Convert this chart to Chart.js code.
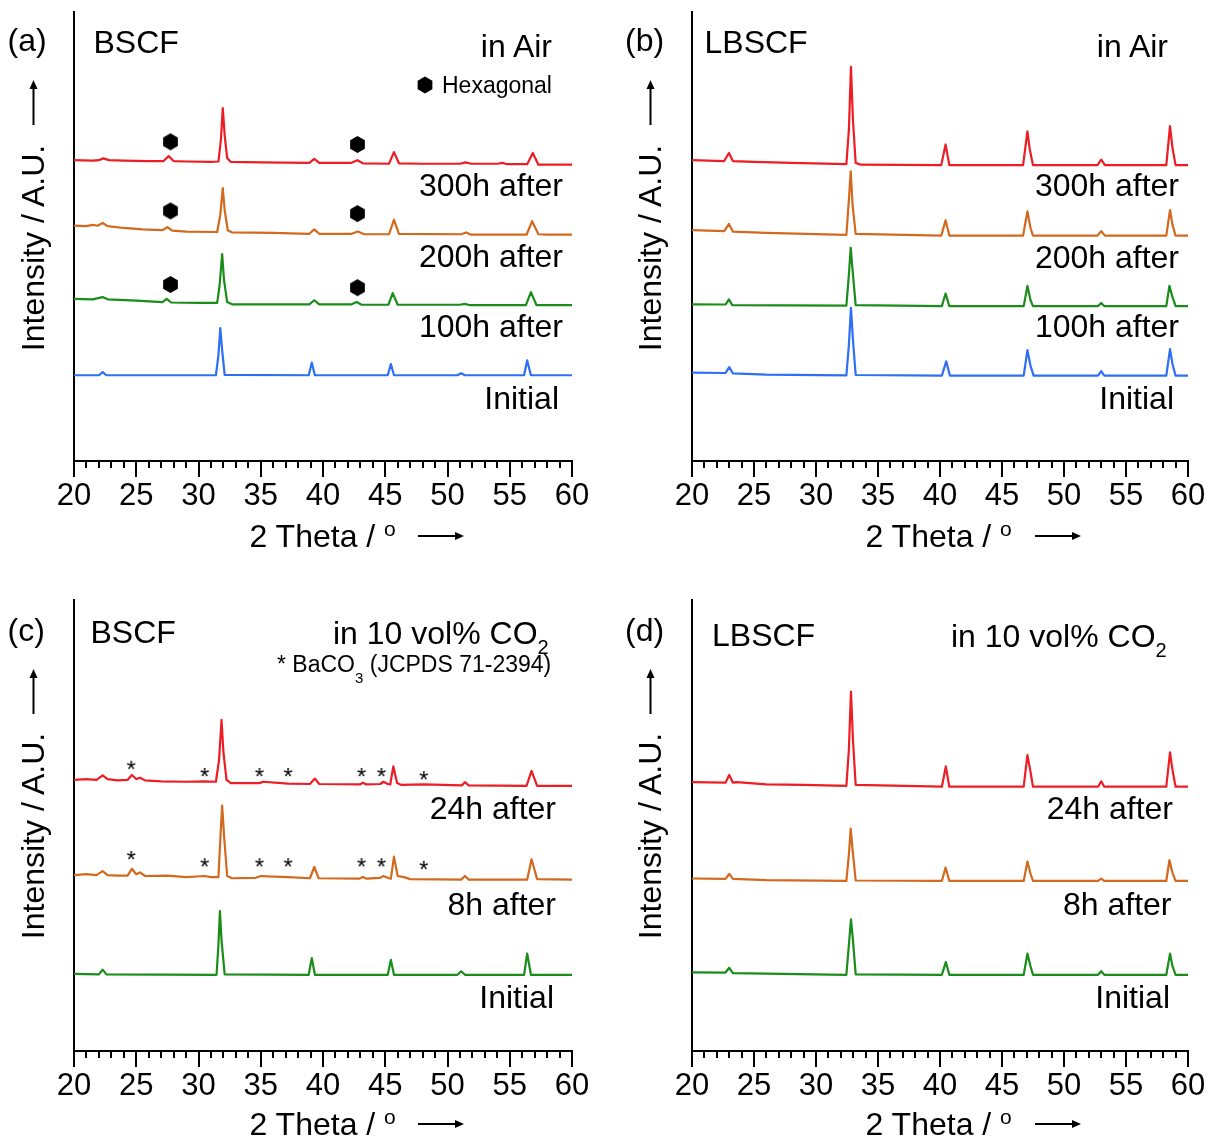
<!DOCTYPE html>
<html>
<head>
<meta charset="utf-8">
<script src="https://cdn.jsdelivr.net/npm/chart.js@4.4.1/dist/chart.umd.min.js"></script>
<style>
  html, body { margin: 0; padding: 0; background: #fff; }
  #fig { position: relative; width: 1212px; height: 1137px; overflow: hidden;
         font-family: 'Liberation Sans', Arial, sans-serif; color: #000; }
  #fig canvas { position: absolute; }
  .t { position: absolute; white-space: nowrap; line-height: 1; }
  #marks { position: absolute; left: 0; top: 0; }
</style>
</head>
<body>
<div id="fig">
  <canvas id="pa" width="606" height="560" style="left:0;top:0"></canvas>
  <canvas id="pb" width="606" height="560" style="left:606px;top:0"></canvas>
  <canvas id="pc" width="606" height="549" style="left:0;top:588px"></canvas>
  <canvas id="pd" width="606" height="549" style="left:606px;top:588px"></canvas>
  <svg id="marks" width="1212" height="1137"></svg>
</div>
<script>
// ---- 2θ axis ----
const xMin = 20, xMax = 60, majorStep = 5, minorStep = 1;

// ---- series names ----
const seriesAir = ['300h after', '200h after', '100h after', 'Initial'];
const seriesCO2 = ['24h after', '8h after', 'Initial'];

// ---- XRD patterns: [2θ, relative intensity] ----
// (a) BSCF in air
const bscfAir300h = [[20,1.0],[21.5,0.9],[22.0,1.0],[22.35,1.4],[22.8,1.0],[24,0.9],[26,0.8],[27.2,0.8],[27.6,1.9],[28.0,0.8],[29,0.7],[31.0,0.6],[31.6,0.7],[31.8,5.5],[31.95,12.6],[32.1,6.6],[32.3,1.5],[32.6,0.6],[35,0.5],[38.9,0.4],[39.3,1.3],[39.7,0.4],[42.3,0.4],[42.75,1.0],[43.2,0.3],[45.3,0.2],[45.7,2.8],[46.1,0.3],[48,0.2],[51.0,0.2],[51.45,0.5],[51.9,0.2],[54.0,0.2],[54.4,0.4],[54.8,0.1],[56.4,0.1],[56.85,2.6],[57.3,0],[60,0]];
const bscfAir200h = [[20,2.0],[21,1.9],[21.5,2.2],[21.9,2.0],[22.3,2.6],[22.7,1.9],[24,1.5],[25.5,1.2],[27.1,1.0],[27.5,1.7],[27.9,0.9],[29,0.7],[31.5,0.6],[31.75,4.4],[31.95,10.4],[32.1,5.5],[32.35,1.0],[32.7,0.5],[36,0.4],[38.9,0.2],[39.3,1.2],[39.7,0.2],[42.3,0.2],[42.8,0.7],[43.3,0.1],[45.3,0.1],[45.7,3.3],[46.1,0.2],[51.1,0.1],[51.5,0.5],[51.9,0],[56.35,0],[56.8,3.0],[57.3,0.1],[58,0],[60,0]];
const bscfAir100h = [[20,1.4],[21.5,1.3],[22.3,1.8],[22.7,1.3],[25,1.0],[27.1,0.7],[27.45,1.4],[27.8,0.6],[30,0.5],[31.5,0.5],[31.7,4.5],[31.9,11.4],[32.05,5.6],[32.3,0.7],[32.7,0.2],[38.9,0.2],[39.3,1.1],[39.7,0.2],[42.3,0.2],[42.7,0.7],[43.1,0.1],[45.25,0.1],[45.6,2.7],[46.0,0.1],[51.0,0.1],[51.4,0.3],[51.8,0],[56.3,0],[56.7,2.9],[57.15,0],[60,0]];
const bscfAirInitial = [[20,0],[22.0,0],[22.3,0.7],[22.6,0],[31.4,0],[31.6,4.5],[31.75,10.5],[31.9,5.6],[32.1,0.1],[38.85,0],[39.1,2.8],[39.35,0],[45.2,0],[45.45,2.5],[45.7,0],[50.8,0],[51.1,0.45],[51.4,0],[56.15,0],[56.4,3.3],[56.7,0],[60,0]];

// (b) LBSCF in air
const lbscfAir300h = [[20,1.1],[22.6,0.9],[22.98,2.7],[23.3,0.9],[25,0.7],[28,0.5],[32.45,0.2],[32.65,7.8],[32.82,21.9],[32.98,10.0],[33.2,0.5],[33.6,0.1],[40.1,0],[40.45,4.6],[40.75,0],[46.7,0],[47.05,7.5],[47.25,3.3],[47.5,0],[52.7,0],[53.0,1.2],[53.3,0],[58.25,0],[58.55,8.7],[58.75,3.8],[59.0,0],[60,0]];
const lbscfAir200h = [[20,1.2],[22.6,1.0],[22.98,2.6],[23.3,0.9],[26,0.6],[32.45,0.15],[32.65,7.9],[32.8,14.3],[32.95,6.8],[33.2,0.4],[40.1,0],[40.45,3.4],[40.75,0],[46.7,0],[47.05,5.4],[47.3,1.7],[47.5,0],[52.7,0],[53.0,1.0],[53.3,0],[58.25,0],[58.55,5.7],[58.75,2.4],[59.0,0],[60,0]];
const lbscfAir100h = [[20,0.4],[22.7,0.35],[22.98,1.5],[23.25,0.2],[32.45,0.1],[32.65,6.9],[32.8,13.0],[32.95,8.0],[33.2,0.2],[40.15,0],[40.45,2.8],[40.75,0],[46.75,0],[47.05,4.5],[47.3,1.3],[47.5,0],[52.75,0],[53.0,0.7],[53.25,0],[58.25,0],[58.5,4.5],[58.75,2.0],[59.0,0],[60,0]];
const lbscfAirInitial = [[20,0.7],[22.7,0.6],[23.0,1.9],[23.3,0.5],[26,0.25],[32.45,0.05],[32.65,6.8],[32.82,15.1],[32.98,8.0],[33.2,0.15],[40.15,0],[40.5,3.2],[40.8,0],[46.75,0],[47.05,5.7],[47.3,2.2],[47.55,0],[52.75,0],[53.0,1.0],[53.25,0],[58.25,0],[58.55,5.9],[58.75,2.6],[59.0,0],[60,0]];

// (c) BSCF in 10 vol% CO2
const bscfCO2_24h = [[20,1.3],[21.0,1.5],[21.8,1.3],[22.3,2.3],[22.7,1.5],[23.5,1.2],[24.3,1.3],[24.65,2.4],[25.0,1.5],[25.3,1.8],[25.7,1.2],[27,1.0],[29,0.9],[30.5,1.0],[31.4,0.9],[31.65,5.7],[31.85,14.6],[32.0,7.5],[32.25,1.3],[32.6,0.6],[34.9,0.6],[35.2,0.9],[37.2,0.5],[38.95,0.4],[39.35,1.6],[39.7,0.4],[43.0,0.3],[43.2,0.7],[43.5,0.3],[44.6,0.4],[44.85,0.9],[45.2,0.4],[45.4,0.3],[45.65,4.3],[45.95,0.6],[46.3,0.2],[48.1,0.3],[51.15,0.1],[51.4,0.8],[51.7,0.1],[56.35,0],[56.75,3.3],[57.2,0],[60,0]];
const bscfCO2_8h = [[20,1.0],[21.0,1.2],[21.8,1.0],[22.3,1.9],[22.7,1.0],[23.5,0.9],[24.3,0.9],[24.65,2.4],[25.0,1.2],[25.3,1.6],[25.7,0.8],[27.5,0.9],[29,0.55],[30.5,0.8],[31.0,0.55],[31.6,0.55],[31.75,8.8],[31.9,16.4],[32.05,9.9],[32.3,0.8],[32.7,0.3],[34.6,0.4],[35.0,0.8],[35.6,0.7],[37.2,0.55],[38.95,0.3],[39.3,2.8],[39.65,0.3],[42.9,0.2],[43.2,0.6],[43.5,0.2],[44.6,0.4],[44.85,0.8],[45.3,0.3],[45.45,0.2],[45.7,5.1],[46.0,0.8],[46.5,0.55],[47,0.1],[51.1,0],[51.4,0.8],[51.7,0],[56.4,0],[56.75,4.5],[57.2,0.1],[60,0]];
const bscfCO2Initial = [[20,0.2],[22.0,0.1],[22.3,1.15],[22.6,0.1],[31.45,0],[31.6,6.6],[31.72,14.1],[31.85,7.7],[32.1,0.1],[38.85,0],[39.1,3.7],[39.35,0],[45.2,0],[45.45,3.3],[45.7,0],[50.8,0],[51.1,0.8],[51.4,0],[56.15,0],[56.4,4.7],[56.7,0],[60,0]];

// (d) LBSCF in 10 vol% CO2
const lbscfCO2_24h = [[20,1.0],[22.7,0.9],[23.0,2.6],[23.3,0.9],[23.6,1.0],[26,0.5],[29,0.4],[32.45,0.2],[32.65,8.2],[32.82,21.1],[32.98,10.4],[33.2,0.4],[40.15,0],[40.47,4.5],[40.75,0],[46.75,0],[47.05,7.0],[47.3,3.3],[47.5,0],[52.75,0],[53.0,1.2],[53.25,0],[58.25,0],[58.55,7.6],[58.75,3.7],[59.0,0],[60,0]];
const lbscfCO2_8h = [[20,0.55],[22.7,0.45],[23.0,1.55],[23.3,0.45],[26,0.2],[32.45,0],[32.65,5.8],[32.8,11.6],[32.95,6.9],[33.2,0.1],[40.15,0],[40.45,3.0],[40.75,0],[46.75,0],[47.05,4.3],[47.3,1.6],[47.5,0],[52.75,0],[53.0,0.5],[53.25,0],[58.25,0],[58.5,4.6],[58.75,1.8],[59.0,0],[60,0]];
const lbscfCO2Initial = [[20,0.55],[22.7,0.5],[23.0,1.55],[23.3,0.35],[26,0.25],[32.45,0],[32.65,6.6],[32.82,12.3],[32.98,7.7],[33.2,0.1],[40.15,0],[40.47,2.8],[40.75,0],[46.75,0],[47.05,4.7],[47.3,1.9],[47.5,0],[52.75,0],[53.0,0.8],[53.25,0],[58.25,0],[58.55,4.7],[58.75,1.9],[59.0,0],[60,0]];

// ---- vertical stacking offsets of each pattern ----
const offsetsA = [66.0, 50.4, 34.7, 19.1];
const offsetsB = [65.9, 50.2, 34.5, 19.0];
const offsetsC = [58.8, 38.0, 16.9];
const offsetsD = [58.6, 37.7, 16.9];

// ---- phase markers: [2θ, level] ----
const hexagonalMarks = [[27.75,71.1],[42.77,70.5],[27.75,55.7],[42.77,55.1],[27.75,39.3],[42.77,38.6]];
const baco3Theta = [24.6, 30.5, 34.9, 37.2, 43.1, 44.7, 48.1];
const baco3Level24h = [63.7, 62.1, 62.1, 62.1, 62.1, 62.1, 61.4];
const baco3Level8h = [43.7, 42.1, 42.1, 42.1, 42.1, 42.1, 41.5];

// ---- styling ----
const FONT = "'Liberation Sans', Arial, sans-serif";
const RED = '#ee1d23', ORANGE = '#d2691e', GREEN = '#1a8c1a', BLUE = '#2d6ff5';
const airColors = [RED, ORANGE, GREEN, BLUE];
const co2Colors = [RED, ORANGE, GREEN];

Chart.defaults.font.family = FONT;

// hexagon glyph used as a point style
function hexagonSprite(r) {
  const c = document.createElement('canvas');
  const s = Math.ceil(2 * r + 2);
  c.width = s; c.height = s;
  const g = c.getContext('2d');
  g.fillStyle = '#000';
  g.beginPath();
  for (let k = 0; k < 6; k++) {
    const a = -Math.PI / 2 + k * Math.PI / 3;
    const px = s / 2 + r * Math.cos(a), py = s / 2 + r * Math.sin(a);
    k ? g.lineTo(px, py) : g.moveTo(px, py);
  }
  g.closePath(); g.fill();
  return c;
}
// asterisk glyph used as a point style
function asteriskSprite(size) {
  const c = document.createElement('canvas');
  c.width = 20; c.height = 20;
  const g = c.getContext('2d');
  g.fillStyle = '#000';
  g.font = size + 'px ' + FONT;
  g.textAlign = 'center';
  g.textBaseline = 'alphabetic';
  g.fillText('*', 10, 10 + size * 0.57);
  return c;
}
const hexPoint = hexagonSprite(8.5);
const starPoint = asteriskSprite(24);

// short unlabeled ticks at every degree
const minorTicks = {
  id: 'minorTicks',
  afterDraw(chart) {
    const s = chart.scales.x, ctx = chart.ctx;
    ctx.save();
    ctx.strokeStyle = '#000';
    ctx.lineWidth = 2;
    ctx.beginPath();
    for (let v = xMin; v <= xMax; v += minorStep) {
      if (v % majorStep === 0) continue;
      const px = Math.round(s.getPixelForValue(v));
      ctx.moveTo(px, s.top);
      ctx.lineTo(px, s.top + 7);
    }
    ctx.stroke();
    ctx.restore();
  }
};

function makePanel(id, curves, offsets, colors, pad, axisH, markers) {
  const datasets = curves.map((c, i) => ({
    type: 'line',
    data: c.map(p => ({ x: p[0], y: p[1] + offsets[i] })),
    borderColor: colors[i],
    borderWidth: 2.2,
    borderJoinStyle: 'round',
    pointRadius: 0,
    fill: false,
    tension: 0
  }));
  (markers || []).forEach(m => datasets.push({
    type: 'line',
    showLine: false,
    data: m.points.map(p => ({ x: p[0], y: p[1] })),
    pointStyle: m.style,
    pointRadius: 8,
    borderWidth: 0
  }));
  return new Chart(document.getElementById(id), {
    type: 'line',
    data: { datasets },
    options: {
      responsive: false,
      animation: false,
      events: [],
      layout: { padding: pad },
      plugins: { legend: { display: false }, tooltip: { enabled: false } },
      scales: {
        x: {
          type: 'linear', min: xMin, max: xMax, position: 'bottom',
          ticks: { stepSize: majorStep, color: '#000', padding: 1, maxRotation: 0, autoSkip: false,
                   font: { family: FONT, size: 31 } },
          grid: { display: true, drawOnChartArea: false, drawTicks: true, tickLength: 16,
                  color: '#000', lineWidth: 2 },
          border: { display: true, color: '#000', width: 2 },
          afterFit(s) { s.height = axisH; }
        },
        y: {
          min: 0, max: 100,
          ticks: { display: false },
          grid: { display: false, drawTicks: false },
          border: { display: true, color: '#000', width: 2 },
          afterFit(s) { s.width = 0; }
        }
      }
    },
    plugins: [minorTicks]
  });
}

makePanel('pa', [bscfAir300h, bscfAir200h, bscfAir100h, bscfAirInitial], offsetsA, airColors,
  { left: 74, right: 34, top: 12, bottom: 39 }, 60,
  [{ points: hexagonalMarks, style: hexPoint }]);
makePanel('pb', [lbscfAir300h, lbscfAir200h, lbscfAir100h, lbscfAirInitial], offsetsB, airColors,
  { left: 86, right: 24, top: 12, bottom: 39 }, 60);
makePanel('pc', [bscfCO2_24h, bscfCO2_8h, bscfCO2Initial], offsetsC, co2Colors,
  { left: 74, right: 34, top: 12, bottom: 26 }, 60,
  [{ points: baco3Theta.map((t, i) => [t, baco3Level24h[i]]), style: starPoint },
   { points: baco3Theta.map((t, i) => [t, baco3Level8h[i]]), style: starPoint }]);
makePanel('pd', [lbscfCO2_24h, lbscfCO2_8h, lbscfCO2Initial], offsetsD, co2Colors,
  { left: 86, right: 24, top: 12, bottom: 26 }, 60);

// ---- text annotations ----
const fig = document.getElementById('fig');
function addText(html, x, y, size, align) {
  const d = document.createElement('div');
  d.className = 't';
  d.innerHTML = html;
  d.style.fontSize = size + 'px';
  d.style.left = x + 'px';
  d.style.top = (y - 0.49 * size) + 'px';
  if (align === 'right') d.style.transform = 'translateX(-100%)';
  fig.appendChild(d);
}
function addVTitle(cx, cy) {
  const d = document.createElement('div');
  d.className = 't';
  d.textContent = 'Intensity / A.U.';
  d.style.fontSize = '32px';
  d.style.left = cx + 'px';
  d.style.top = cy + 'px';
  d.style.transform = 'translate(-50%,-50%) rotate(-90deg)';
  fig.appendChild(d);
}
const co2Title = 'in 10 vol% CO<span style="font-size:20px;position:relative;top:10px">2</span>';
const baco3Note = '* BaCO<span style="font-size:15px;position:relative;top:11px">3</span> (JCPDS 71-2394)';
const thetaTitle = '2 Theta / <span style="font-size:21px;position:relative;top:-11px">o</span>';

const textItems = [
  ['(a)', 7.5, 40, 32, 'left'], ['BSCF', 93.5, 42, 32, 'left'], ['in Air', 552, 46, 32, 'right'],
  ['Hexagonal', 442, 85, 23, 'left'],
  [seriesAir[0], 563, 185, 32, 'right'], [seriesAir[1], 563, 256, 32, 'right'],
  [seriesAir[2], 563, 326, 32, 'right'], [seriesAir[3], 559, 398, 32, 'right'],
  [thetaTitle, 249.5, 536, 32, 'left'],

  ['(b)', 625, 40, 32, 'left'], ['LBSCF', 704.5, 42, 32, 'left'], ['in Air', 1168, 46, 32, 'right'],
  [seriesAir[0], 1179, 185, 32, 'right'], [seriesAir[1], 1179, 257, 32, 'right'],
  [seriesAir[2], 1179, 326, 32, 'right'], [seriesAir[3], 1174, 397.5, 32, 'right'],
  [thetaTitle, 865.5, 536, 32, 'left'],

  ['(c)', 7.5, 630, 32, 'left'], ['BSCF', 90.5, 632, 32, 'left'],
  [co2Title, 333, 633, 32, 'left'], [baco3Note, 277, 664, 23, 'left'],
  [seriesCO2[0], 556, 807.5, 32, 'right'], [seriesCO2[1], 556, 903.6, 32, 'right'],
  [seriesCO2[2], 554, 997, 32, 'right'],
  [thetaTitle, 249.5, 1124, 32, 'left'],

  ['(d)', 625, 630, 32, 'left'], ['LBSCF', 712, 635, 32, 'left'],
  [co2Title, 951, 635.5, 32, 'left'],
  [seriesCO2[0], 1173, 807.5, 32, 'right'], [seriesCO2[1], 1171.5, 903.6, 32, 'right'],
  [seriesCO2[2], 1170, 997, 32, 'right'],
  [thetaTitle, 865.5, 1124, 32, 'left']
];
textItems.forEach(t => addText(...t));
addVTitle(33, 247.5);
addVTitle(650, 247.5);
addVTitle(33, 835.5);
addVTitle(650, 835.5);

// ---- axis-direction arrows and legend marker ----
function hArrow(x1, x2, y) {
  return `<line x1="${x1}" y1="${y}" x2="${x2 - 6}" y2="${y}" stroke="#000" stroke-width="2"/>` +
         `<polygon points="${x2},${y} ${x2 - 9},${y - 4} ${x2 - 9},${y + 4}" fill="#000"/>`;
}
function vArrow(x, y1, y2) {
  return `<line x1="${x}" y1="${y1}" x2="${x}" y2="${y2 + 6}" stroke="#000" stroke-width="2"/>` +
         `<polygon points="${x},${y2} ${x - 4},${y2 + 9} ${x + 4},${y2 + 9}" fill="#000"/>`;
}
function hexLegend(cx, cy, r) {
  const pts = [];
  for (let k = 0; k < 6; k++) {
    const a = -Math.PI / 2 + k * Math.PI / 3;
    pts.push((cx + r * Math.cos(a)).toFixed(2) + ',' + (cy + r * Math.sin(a)).toFixed(2));
  }
  return `<polygon points="${pts.join(' ')}" fill="#000"/>`;
}
document.getElementById('marks').innerHTML =
  hArrow(418, 464, 536) + hArrow(1035, 1081, 536) + hArrow(418, 464, 1124) + hArrow(1035, 1081, 1124) +
  vArrow(33.5, 125, 80) + vArrow(650.5, 125, 80) + vArrow(33.5, 714, 669) + vArrow(650.5, 714, 669) +
  hexLegend(425, 85, 8.5);
</script>
</body>
</html>
